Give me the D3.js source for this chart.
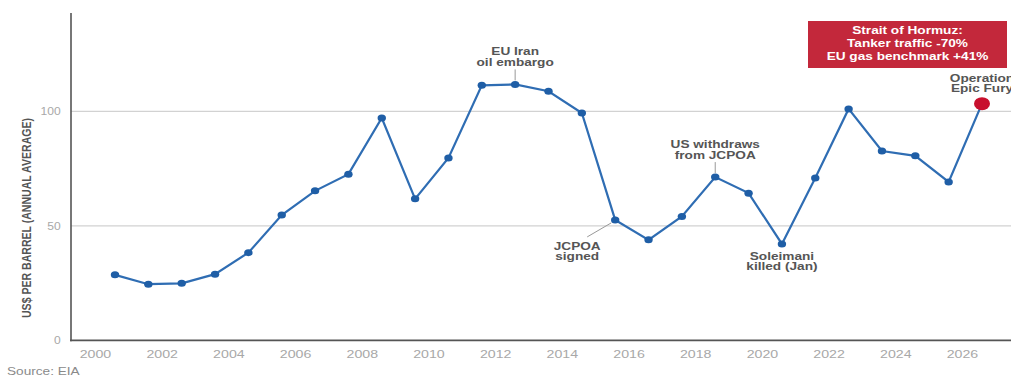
<!DOCTYPE html>
<meta charset="utf-8">
<svg width="1011" height="383"></svg>
<script src="https://d3js.org/d3.v7.min.js"></script>
<style>
  body { margin: 0; background: #fff; }
  * { font-family: Arial, 'Liberation Sans', sans-serif; }
</style>
<script>
// Brent crude, annual average, US$ per barrel
var years = [2000, 2001, 2002, 2003, 2004, 2005, 2006, 2007, 2008, 2009,
             2010, 2011, 2012, 2013, 2014, 2015, 2016, 2017, 2018, 2019,
             2020, 2021, 2022, 2023, 2024, 2025, 2026];
var prices = [28.6, 24.5, 24.9, 28.9, 38.3, 54.7, 65.3, 72.6, 97.1, 61.8,
              79.7, 111.4, 111.8, 108.8, 99.3, 52.6, 43.9, 54.1, 71.3, 64.3,
              42.1, 70.9, 101.1, 82.7, 80.6, 69.2, 103.4];
var xTicks = [2000, 2002, 2004, 2006, 2008, 2010, 2012, 2014, 2016, 2018, 2020, 2022, 2024, 2026];
var yTicks = [0, 50, 100];

var eventYears = [2012, 2018, 2015, 2020, 2026];
var eventLabels = [["EU Iran", "oil embargo"], ["US withdraws", "from JCPOA"],
                   ["JCPOA", "signed"], ["Soleimani", "killed (Jan)"], ["Operation", "Epic Fury"]];
var boxLines = ["Strait of Hormuz:", "Tanker traffic -70%", "EU gas benchmark +41%"];
var yTitle = "US$ PER BARREL (ANNUAL AVERAGE)";
var source = "Source: EIA";

var data = years.map(function(y, i) { return {year: y, value: prices[i]}; });

var svg = d3.select("svg"),
    W = +svg.attr("width"),
    axisX = 71, plotTop = 13, plotBottom = 340.3,
    sx = 1.3; // the picture's type is stretched horizontally

var x = d3.scaleLinear().domain([2000, 2026]).range([115, 982]);
var y = d3.scaleLinear().domain([0, 143]).range([plotBottom, plotTop]);

function label(g, tx, ty, txt) {
  return g.append("text")
    .attr("transform", "translate(" + tx + "," + ty + ") scale(" + sx + ",1)")
    .text(txt);
}

// gridlines
svg.append("g").selectAll("line")
  .data(yTicks.filter(function(d) { return d > 0; }))
  .join("line")
    .attr("x1", axisX).attr("x2", W)
    .attr("y1", function(d) { return y(d); })
    .attr("y2", function(d) { return y(d); })
    .attr("stroke", "#d2d2d2").attr("stroke-width", 1.2);

// y axis
var ya = svg.append("g")
    .attr("transform", "translate(" + axisX + ",0)")
    .call(d3.axisLeft(y).tickValues(yTicks).tickSize(0).tickPadding(9));
ya.select(".domain").remove();
ya.selectAll("text")
    .attr("fill", "#a8a8a8").attr("font-size", 10.5)
    .attr("transform", "scale(1.15,1)");
svg.append("line")
    .attr("x1", axisX).attr("x2", axisX).attr("y1", plotTop).attr("y2", plotBottom + 1)
    .attr("stroke", "#555").attr("stroke-width", 1.6);

// x axis
var xa = svg.append("g")
    .attr("transform", "translate(0," + plotBottom + ")")
    .call(d3.axisBottom(x).tickValues(xTicks).tickFormat(d3.format("d")).tickSize(0).tickPadding(10));
xa.select(".domain").remove();
xa.selectAll("text")
    .attr("fill", "#a8a8a8").attr("font-size", 10.5)
    .attr("transform", "translate(-20,0) scale(1.35,1)");
svg.append("line")
    .attr("x1", axisX - 1).attr("x2", W).attr("y1", plotBottom).attr("y2", plotBottom)
    .attr("stroke", "#555").attr("stroke-width", 1.8);

// y title
svg.append("text")
    .attr("transform", "translate(31,218) rotate(-90) scale(1,1.3)")
    .attr("text-anchor", "middle")
    .attr("font-size", 10.5).attr("font-weight", "bold").attr("fill", "#555")
    .attr("textLength", 200).attr("lengthAdjust", "spacingAndGlyphs")
    .text(yTitle);

// line
svg.append("path")
    .datum(data)
    .attr("fill", "none").attr("stroke", "#2f6db3").attr("stroke-width", 2.2)
    .attr("d", d3.line().x(function(d) { return x(d.year); }).y(function(d) { return y(d.value); }));

svg.append("g").selectAll("ellipse")
  .data(data.slice(0, -1))
  .join("ellipse")
    .attr("cx", function(d) { return x(d.year); })
    .attr("cy", function(d) { return y(d.value); })
    .attr("rx", 4.2).attr("ry", 3.5)
    .attr("fill", "#1f5ea6");

var last = data[data.length - 1];
svg.append("ellipse")
    .attr("cx", x(last.year)).attr("cy", y(last.value))
    .attr("rx", 8).attr("ry", 6.5)
    .attr("fill", "#c8102e");

// annotations
var ann = svg.append("g")
    .attr("font-size", 10.5).attr("font-weight", "bold").attr("fill", "#555")
    .attr("text-anchor", "middle");
var place = [
  {dx: 0, dy: -29, lead: [0, -4, 0, -15]},
  {dx: 0, dy: -29, lead: [0, -4, 0, -15]},
  {dx: -38, dy: 30, lead: [-4, 3, -28, 17]},
  {dx: 0, dy: 16, lead: null},
  {dx: 0, dy: -22, lead: null}
];
eventYears.forEach(function(yr, i) {
  var d = data[years.indexOf(yr)],
      px = x(d.year), py = y(d.value), p = place[i];
  eventLabels[i].forEach(function(t, j) {
    label(ann, px + p.dx, py + p.dy + j * 10.5, t);
  });
  if (p.lead) {
    ann.append("line")
      .attr("x1", px + p.lead[0]).attr("y1", py + p.lead[1])
      .attr("x2", px + p.lead[2]).attr("y2", py + p.lead[3])
      .attr("stroke", "#999").attr("stroke-width", 1);
  }
});

// red call-out box
svg.append("rect")
    .attr("x", 808).attr("y", 21).attr("width", 199).attr("height", 47)
    .attr("fill", "#c3283b");
var bx = svg.append("g")
    .attr("font-size", 10.5).attr("font-weight", "bold").attr("fill", "#fff")
    .attr("text-anchor", "middle");
boxLines.forEach(function(t, i) {
  label(bx, 907.5, 34 + i * 13, t);
});

// source
label(svg.append("g").attr("font-size", 10.5).attr("fill", "#8a8a8a"), 7, 375, source);
</script>
